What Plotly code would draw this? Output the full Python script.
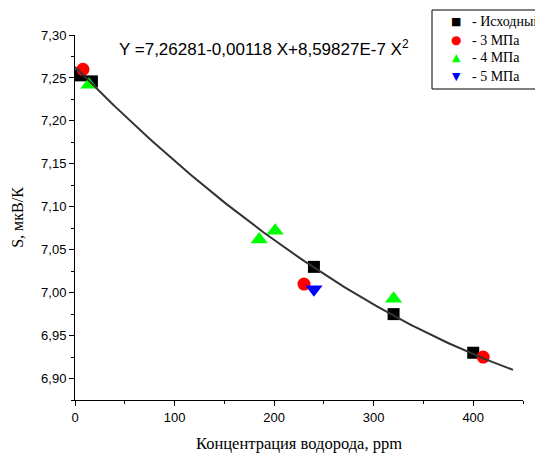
import numpy as np
import plotly.graph_objects as go

# Data
x_base = [5, 17, 240, 320, 400]
y_base = [7.253, 7.246, 7.03, 6.975, 6.93]
x_3mpa = [8, 230, 410]
y_3mpa = [7.26, 7.01, 6.925]
x_4mpa = [14, 185, 201, 320]
y_4mpa = [7.242, 7.062, 7.072, 6.993]
x_5mpa = [240]
y_5mpa = [7.004]
fit_coef = [7.26281, -0.00118, 8.59827e-7]
fit_x_range = [0, 440]
equation = "Y =7,26281-0,00118 X+8,59827E-7 X<sup>2</sup>"
legend_names = ["- Исходный", "- 3 МПа", "- 4 МПа", "- 5 МПа"]
legend_glyphs = ["■", "●", "▲", "▼"]

# The page body adds an 8 px offset, so the figure is drawn 8 px smaller
OFF = 8
W, H = 543 - OFF, 453 - OFF
ML, MT = 75 - OFF, 35 - OFF
PW, PH = 448, 365
MR, MB = W - ML - PW, H - MT - PH


def px(xp):
    # reference pixel -> paper fraction
    return (xp - OFF - ML) / PW


def py(yp):
    return (MT + PH - (yp - OFF)) / PH


series = [
    (x_base, y_base, "square", 12, "black"),
    (x_3mpa, y_3mpa, "circle", 13, "red"),
    (x_4mpa, y_4mpa, "triangle-up", 15, "#00ff00"),
    (x_5mpa, y_5mpa, "triangle-down", 15, "blue"),
]

fig = go.Figure()
for (xs, ys, sym, size, col), name in zip(series, legend_names):
    fig.add_trace(go.Scatter(x=xs, y=ys, mode="markers", name=name, showlegend=False,
                             marker=dict(symbol=sym, size=size, color=col)))

xf = np.linspace(fit_x_range[0], fit_x_range[1], 200)
yf = fit_coef[0] + fit_coef[1] * xf + fit_coef[2] * xf ** 2
fig.add_trace(go.Scatter(x=xf, y=yf, mode="lines", showlegend=False,
                         line=dict(color="#333333", width=2)))

axis_common = dict(showgrid=False, zeroline=False, showline=True, linecolor="black",
                   linewidth=1, ticks="outside", ticklen=5, tickcolor="black",
                   tickfont=dict(family="Liberation Sans, Arial", size=13, color="black"),
                   mirror=False, automargin=False)

fig.update_xaxes(range=[0, 450], dtick=100, tick0=0,
                 minor=dict(dtick=50, ticks="outside", ticklen=3, tickcolor="black"),
                 title=dict(text="Концентрация водорода, ppm",
                            font=dict(family="Liberation Serif, Times New Roman", size=16.5, color="black"),
                            standoff=14),
                 **axis_common)
fig.update_yaxes(range=[6.875, 7.30], dtick=0.05, tick0=6.9, tickformat=".2f",
                 minor=dict(dtick=0.025, ticks="outside", ticklen=3, tickcolor="black"),
                 title=dict(text="S, мкВ/К",
                            font=dict(family="Liberation Serif, Times New Roman", size=16, color="black"),
                            standoff=13),
                 **axis_common)

fig.add_annotation(text=equation, xref="paper", yref="paper",
                   x=px(117), y=py(48), xanchor="left", yanchor="middle",
                   showarrow=False,
                   font=dict(family="Liberation Sans, Arial", size=17, color="black"))

# Legend box (cut at the right edge like the reference)
fig.add_shape(type="rect", xref="paper", yref="paper",
              x0=px(432), x1=px(600), y0=py(89), y1=py(10),
              line=dict(color="black", width=1), fillcolor="white", layer="above")
row_y = [21.5, 40, 57.5, 76]
glyph_sizes = [11, 12, 11, 11]
for (xs, ys, sym, size, col), name, glyph, gs, ry in zip(series, legend_names, legend_glyphs,
                                                        glyph_sizes, row_y):
    fig.add_annotation(text=glyph, xref="paper", yref="paper", x=px(456), y=py(ry),
                       xanchor="center", yanchor="middle", showarrow=False,
                       font=dict(family="DejaVu Sans", size=gs, color=col))
    fig.add_annotation(text=name, xref="paper", yref="paper", x=px(470), y=py(ry),
                       xanchor="left", yanchor="middle", showarrow=False,
                       font=dict(family="Liberation Serif, Times New Roman", size=14, color="black"))

fig.update_layout(
    width=W, height=H,
    margin=dict(l=ML, r=MR, t=MT, b=MB),
    paper_bgcolor="white", plot_bgcolor="white",
    separators=", ",
    showlegend=False,
)

fig.write_html("out.html")
